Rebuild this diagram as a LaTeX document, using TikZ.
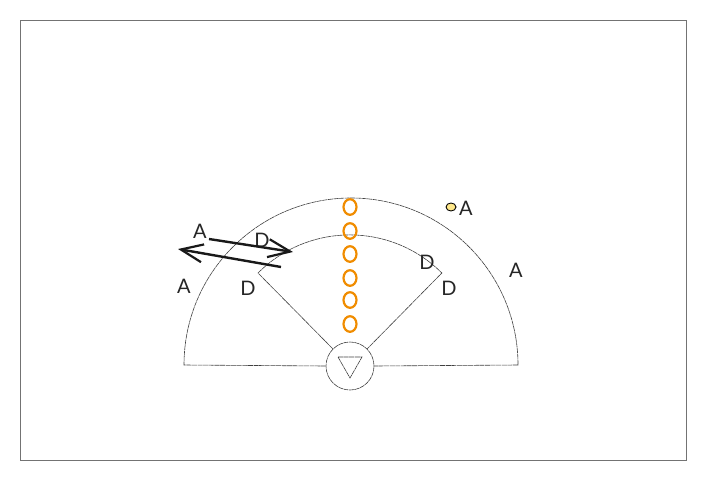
\documentclass[tikz,border=0pt]{standalone}
\usepackage{fontspec}
\setmainfont{Lato}
\usetikzlibrary{arrows.meta}

\definecolor{coneorange}{HTML}{F08C00}
\definecolor{balllight}{HTML}{FFE88A}

\tikzset{
  fieldline/.style={black!75,line width=0.6pt,dash pattern=on 5pt off 0.6pt},
  player/.style={black!85,font=\fontsize{20}{22}\selectfont,inner sep=0pt},
  run/.style={line width=2.4pt,black!90,-{Straight Barb[length=22pt,width=18pt,line width=2.2pt]}}
}

\begin{document}
\begin{tikzpicture}[x=1pt,y=-1pt]
    \useasboundingbox (0,0) rectangle (706,479);
    \draw[black!55,line width=1pt] (20,20) rectangle (686,460);

    \node[circle,draw,fieldline,minimum size=48pt,inner sep=0pt] (home) at (350,366) {};
    \draw[fieldline] (338,357) -- (362,357) -- (350,378) -- cycle;

    \coordinate (outl) at (184,365);
    \coordinate (outr) at (518,365);
    \coordinate (inl) at (258,273);
    \coordinate (inr) at (442,273);

    \draw[fieldline] (home.west) -- (outl) arc[start angle=180,end angle=360,radius=167] -- (home.east);
    \draw[fieldline] (home.135) -- (inl) arc[start angle=225,end angle=315,radius=130] -- (home.45);

    \foreach \y in {207,231,254,278,300,324}
      \draw[coneorange,line width=2.2pt] (350,\y) ellipse[x radius=6.5,y radius=7.8];

    \draw[black,line width=0.9pt,fill=balllight] (451,207) ellipse[x radius=5,y radius=4];

    \node[player] (a1) at (200,231) {A};
    \node[player] (d1) at (262,240) {D};
    \node[player] (a2) at (184,286) {A};
    \node[player] (d2) at (248,288) {D};
    \node[player] (d3) at (427,262) {D};
    \node[player] (d4) at (449,288) {D};
    \node[player] (a3) at (516,270) {A};
    \node[player] (a4) at (466,208) {A};

    \coordinate (r1s) at (209,239);
    \coordinate (r1e) at (293,252);
    \coordinate (r2s) at (281,267);
    \coordinate (r2e) at (178,249);
    \draw[run] (r1s) -- (r1e);
    \draw[run] (r2s) -- (r2e);

  \end{tikzpicture}
\end{document}
